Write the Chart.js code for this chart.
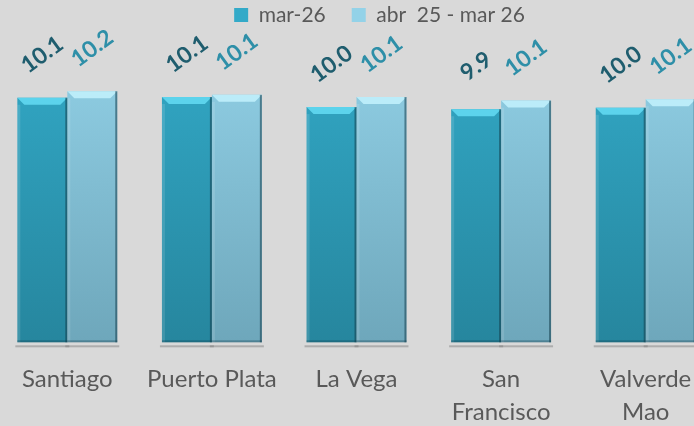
<!DOCTYPE html>
<html>
<head>
<meta charset="utf-8">
<script src="https://cdn.jsdelivr.net/npm/chart.js@4.4.1/dist/chart.umd.min.js"></script>
<style>
    html, body { margin: 0; padding: 0; width: 694px; height: 426px; overflow: hidden; background: #d9d9d9; }
    .wrap { position: absolute; left: -5px; top: 0; width: 723px; height: 426px; }
</style>
</head>
<body>
<div class="wrap"><canvas id="main_chart"></canvas></div>
<script>
// chart data
const categories = ["Santiago", "Puerto Plata", "La Vega", "San Francisco", "Valverde Mao"];
const tickLabels = ["Santiago", "Puerto Plata", "La Vega", ["San", "Francisco"], ["Valverde", "Mao"]];
const seriesNames = ["mar-26", "abr  25 - mar 26"];
const marValues = [10.10, 10.11, 9.97, 9.94, 9.96];
const yearValues = [10.19, 10.14, 10.11, 10.06, 10.08];

const labelColors = ['#1f5d6e', '#2e8fa8'];

Chart.defaults.font.family = 'Lato';

// vertical gradient for bars, plain colour for the legend box
function barFill(top, bottom, solid) {
    return (c) => {
        const area = c.chart.chartArea;
        if (!area || c.type !== 'data') return solid;
        const g = c.chart.ctx.createLinearGradient(0, area.top, 0, area.bottom);
        g.addColorStop(0, top);
        g.addColorStop(1, bottom);
        return g;
    };
}

// legend: fixed height, moved up and right like the original
const legendTweak = {
    id: 'legendTweak',
    beforeInit(chart) {
        const fit = chart.legend.fit;
        chart.legend.fit = function () {
            fit.call(this);
            this.height = 33;
        };
    },
    afterLayout(chart) {
        const lg = chart.legend;
        lg.left += 23; lg.right += 23;
        lg.top -= 21.5;
    }
};

// bevel look on each bar
const bevel = {
    id: 'bevel',
    afterDatasetsDraw(chart) {
        const ctx = chart.ctx;
        const tops = ['rgba(95,214,238,0.95)', 'rgba(190,238,250,0.95)'];
        chart.data.datasets.forEach((ds, i) => {
            chart.getDatasetMeta(i).data.forEach((bar) => {
                const l = bar.x - bar.width / 2, r = bar.x + bar.width / 2;
                const t = bar.y, b = Math.min(bar.base, chart.chartArea.bottom), d = 7;
                ctx.save();
                // floor shadow
                ctx.fillStyle = 'rgba(120,120,120,0.45)';
                ctx.fillRect(l - 2, b + 3, r - l + 4, 2);
                // top face
                ctx.fillStyle = tops[i];
                ctx.beginPath();
                ctx.moveTo(l, t); ctx.lineTo(r, t);
                ctx.lineTo(r - d, t + d); ctx.lineTo(l + d, t + d);
                ctx.closePath();
                ctx.fill();
                // side edges
                ctx.fillStyle = 'rgba(255,255,255,0.12)';
                ctx.fillRect(l, t + d, 3, b - t - d);
                ctx.fillStyle = 'rgba(20,60,75,0.55)';
                ctx.fillRect(r - 2, t, 2, b - t);
                ctx.fillStyle = 'rgba(20,60,75,0.35)';
                ctx.fillRect(l, b - 2, r - l, 2);
                ctx.restore();
            });
        });
    }
};

// rotated value labels above bars
const valueLabels = {
    id: 'valueLabels',
    afterDatasetsDraw(chart) {
        const ctx = chart.ctx;
        chart.data.datasets.forEach((ds, i) => {
            chart.getDatasetMeta(i).data.forEach((bar, j) => {
                ctx.save();
                ctx.translate(bar.x, bar.y - 43);
                ctx.rotate(-36 * Math.PI / 180);
                ctx.font = 'bold 23px Lato';
                ctx.fillStyle = labelColors[i];
                ctx.textAlign = 'center';
                ctx.textBaseline = 'middle';
                ctx.fillText(ds.data[j].toFixed(1), 0, 0);
                ctx.restore();
            });
        });
    }
};

let chart1 = new Chart(document.getElementById('main_chart'), {
    type: 'bar',
    data: {
        labels: tickLabels,
        datasets: [{
            label: seriesNames[0],
            data: marValues,
            backgroundColor: barFill('#33aac8', '#26869e', '#2b9bb8'),
            borderWidth: 0,
            categoryPercentage: 0.691,
            barPercentage: 1
        }, {
            label: seriesNames[1],
            data: yearValues,
            backgroundColor: barFill('#93d2e8', '#6ea7bb', '#86c4da'),
            borderWidth: 0,
            categoryPercentage: 0.691,
            barPercentage: 1
        }]
    },
    options: {
        responsive: true,
        maintainAspectRatio: false,
        animation: false,
        layout: { padding: 0 },
        plugins: {
            legend: {
                position: 'top',
                labels: {
                    boxWidth: 14,
                    boxHeight: 14,
                    padding: 26,
                    color: '#595959',
                    font: { size: 21 }
                }
            },
            tooltip: { enabled: false },
            title: { display: false }
        },
        scales: {
            x: {
                grid: { display: false, drawTicks: false },
                border: { display: false },
                ticks: {
                    color: '#595959',
                    padding: 20,
                    autoSkip: false,
                    maxRotation: 0,
                    font: { size: 24, lineHeight: 1.375 }
                },
                afterFit: (scale) => { scale.height = 83.7; }
            },
            y: {
                display: false,
                min: 6.7,
                max: 11
            }
        }
    },
    plugins: [legendTweak, bevel, valueLabels]
});
</script>
</body>
</html>
